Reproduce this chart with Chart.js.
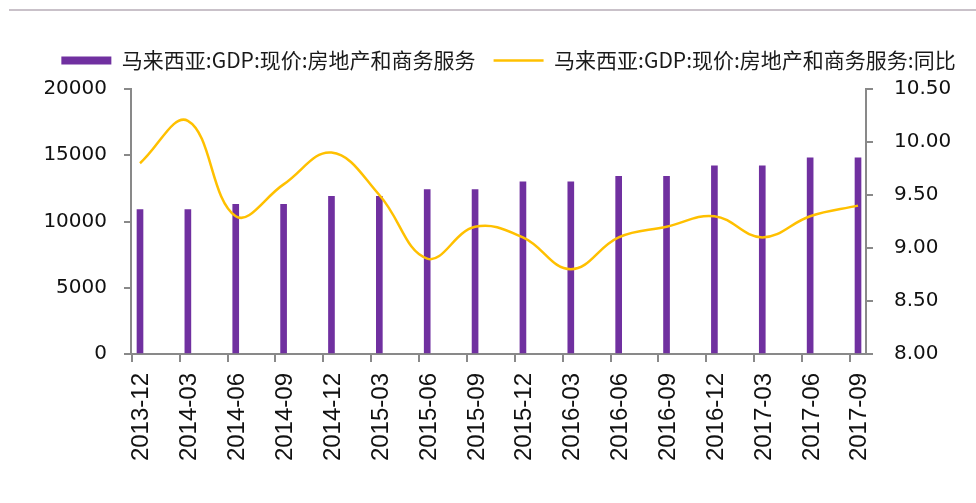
<!DOCTYPE html>
<html>
<head>
<meta charset="utf-8">
<script src="https://cdn.jsdelivr.net/npm/chart.js@4/dist/chart.umd.min.js"></script>
<style>
  body { margin: 0; background: #fff; }
  #wrap { position: relative; width: 976px; height: 503px; }
  #rule { position: absolute; left: 9px; top: 9px; width: 967px; height: 2px; background: #c9c1c9; }
  canvas { position: absolute; left: 0; top: 0; }
</style>
</head>
<body>
<div id="wrap">
  <div id="rule"></div>
  <canvas id="chart" width="976" height="503"></canvas>
</div>
<script>
// quarters on the x axis
const quarters = ["2013-12", "2014-03", "2014-06", "2014-09", "2014-12", "2015-03", "2015-06", "2015-09",
    "2015-12", "2016-03", "2016-06", "2016-09", "2016-12", "2017-03", "2017-06", "2017-09"];

// GDP at current prices, real estate & business services
const gdpValues = [10900, 10900, 11300, 11300, 11900, 11900, 12400, 12400,
    13000, 13000, 13400, 13400, 14200, 14200, 14800, 14800];

// year-on-year (right axis)
const yoyValues = [9.8, 10.2, 9.3, 9.6, 9.9, 9.5, 8.9, 9.2,
    9.1, 8.8, 9.1, 9.2, 9.3, 9.1, 9.3, 9.4];

const leftTicks = [0, 5000, 10000, 15000, 20000];
const rightTicks = [8.0, 8.5, 9.0, 9.5, 10.0, 10.5];

const axisColor = "#898989";
const tickFont = { family: "DejaVu Sans", size: 20 };

// push the plot area down a bit below the legend
const legendGap = {
    id: "legendGap",
    beforeInit(chart) {
        const fit = chart.legend.fit;
        chart.legend.fit = function () {
            fit.bind(chart.legend)();
            this.height += 8;
        };
    }
};

new Chart(document.getElementById("chart"), {
    type: "bar",
    data: {
        datasets: [
            {
                type: "line",
                label: "马来西亚:GDP:现价:房地产和商务服务:同比",
                data: yoyValues.map((v, i) => ({ x: i, y: v })),
                borderColor: "#FFC000",
                backgroundColor: "#FFC000",
                borderWidth: 2.5,
                pointRadius: 0,
                pointStyle: "line",
                tension: 0.4,
                yAxisID: "y1",
                order: 0
            },
            {
                label: "马来西亚:GDP:现价:房地产和商务服务",
                data: gdpValues.map((v, i) => ({ x: i, y: v })),
                backgroundColor: "#7030A0",
                borderWidth: 0,
                barThickness: 6,
                pointStyle: "rect",
                yAxisID: "y",
                order: 1
            }
        ]
    },
    options: {
        responsive: false,
        animation: false,
        layout: { padding: { left: 41, top: 32, right: 0, bottom: 0 } },
        plugins: {
            tooltip: { enabled: false },
            legend: {
                position: "top",
                reverse: true,
                labels: {
                    usePointStyle: true,
                    pointStyleWidth: 50,
                    boxHeight: 8,
                    padding: 18,
                    color: "#1a1a1a",
                    font: { family: "Noto Sans CJK SC", size: 21 }
                }
            }
        },
        scales: {
            x: {
                type: "linear",
                offset: false,
                min: -0.188,
                max: 15.167,
                afterBuildTicks: scale => {
                    scale.ticks = quarters.map((q, i) => ({ value: i - 0.17 }));
                },
                afterFit: scale => { scale.height = 149; },
                grid: { drawOnChartArea: false, offset: false, color: axisColor, lineWidth: 2, tickLength: 8 },
                border: { color: axisColor, width: 2 },
                ticks: {
                    autoSkip: false,
                    minRotation: 90,
                    maxRotation: 90,
                    labelOffset: 10,
                    padding: 11,
                    color: "#111",
                    font: { family: "Liberation Sans", size: 24 },
                    callback: (value, index) => quarters[index]
                }
            },
            y: {
                position: "left",
                min: 0,
                max: 20000,
                afterBuildTicks: scale => { scale.ticks = leftTicks.map(v => ({ value: v })); },
                afterFit: scale => { scale.width = 90; },
                grid: { drawOnChartArea: false, color: axisColor, lineWidth: 2, tickLength: 7 },
                border: { color: axisColor, width: 2 },
                ticks: { padding: 17, color: "#111", font: tickFont, callback: v => String(v) }
            },
            y1: {
                position: "right",
                min: 8,
                max: 10.5,
                afterBuildTicks: scale => { scale.ticks = rightTicks.map(v => ({ value: v })); },
                afterFit: scale => { scale.width = 110; },
                grid: { drawOnChartArea: false, color: axisColor, lineWidth: 2, tickLength: 7 },
                border: { color: axisColor, width: 2 },
                ticks: { padding: 21, color: "#111", font: tickFont, callback: v => v.toFixed(2) }
            }
        }
    },
    plugins: [legendGap]
});
</script>
</body>
</html>
